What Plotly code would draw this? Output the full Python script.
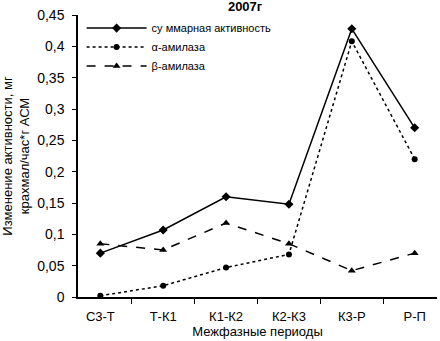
import plotly.graph_objects as go

categories = ["С3-Т", "Т-К1", "К1-К2", "К2-К3", "К3-Р", "Р-П"]
total = [0.070, 0.107, 0.160, 0.148, 0.428, 0.270]
alpha = [0.002, 0.018, 0.047, 0.068, 0.408, 0.220]
beta = [0.085, 0.075, 0.118, 0.085, 0.042, 0.070]

fig = go.Figure()
fig.add_trace(go.Scatter(x=categories, y=total, name="су ммарная активность", mode="lines+markers",
                         line=dict(color="black", width=1.5),
                         marker=dict(symbol="diamond", size=7, color="black")))
fig.add_trace(go.Scatter(x=categories, y=alpha, name="α-амилаза", mode="lines+markers",
                         line=dict(color="black", width=1.5, dash="dot"),
                         marker=dict(symbol="circle", size=6, color="black")))
fig.add_trace(go.Scatter(x=categories, y=beta, name="β-амилаза", mode="lines+markers",
                         line=dict(color="black", width=1.5, dash="dash"),
                         marker=dict(symbol="triangle-up", size=7, color="black")))

fig.update_layout(
    width=440, height=341, autosize=False,
    margin=dict(l=78, r=3, t=15, b=44, pad=0),
    paper_bgcolor="white", plot_bgcolor="white",
    separators=", ",
    font=dict(family="Liberation Sans, Arial", size=13, color="black"),
    title=dict(text="<b>2007г</b>", x=0.557, xanchor="center", y=0.995, yanchor="top",
               font=dict(size=13)),
    showlegend=True,
    legend=dict(x=0.01, y=1.005, xanchor="left", yanchor="top", bgcolor="rgba(0,0,0,0)",
                font=dict(size=11), tracegroupgap=0, itemwidth=60),
    xaxis=dict(showline=True, linecolor="black", linewidth=1.5, showgrid=False,
               ticks="outside", tickson="boundaries", ticklen=5, tickcolor="black",
               automargin=False, ticklabelstandoff=7,
               title=dict(text="Межфазные периоды", standoff=0, font=dict(size=13)),
               zeroline=False),
    yaxis=dict(range=[0, 0.45], dtick=0.05, tick0=0, showline=True, linecolor="black",
               linewidth=1.5, showgrid=False, ticks="outside", ticklen=4, tickcolor="black",
               zeroline=False, tickformat=".2~f", automargin=False, ticklabelstandoff=5,
               tickfont=dict(size=14),
               title=dict(text="Изменение активности, мг<br>крахмал/час*г АСМ", standoff=6,
                          font=dict(size=13))),
)

fig.write_html("out.html", config={"displayModeBar": False},
               post_script="document.body.style.margin='0';document.body.style.padding='0';")
